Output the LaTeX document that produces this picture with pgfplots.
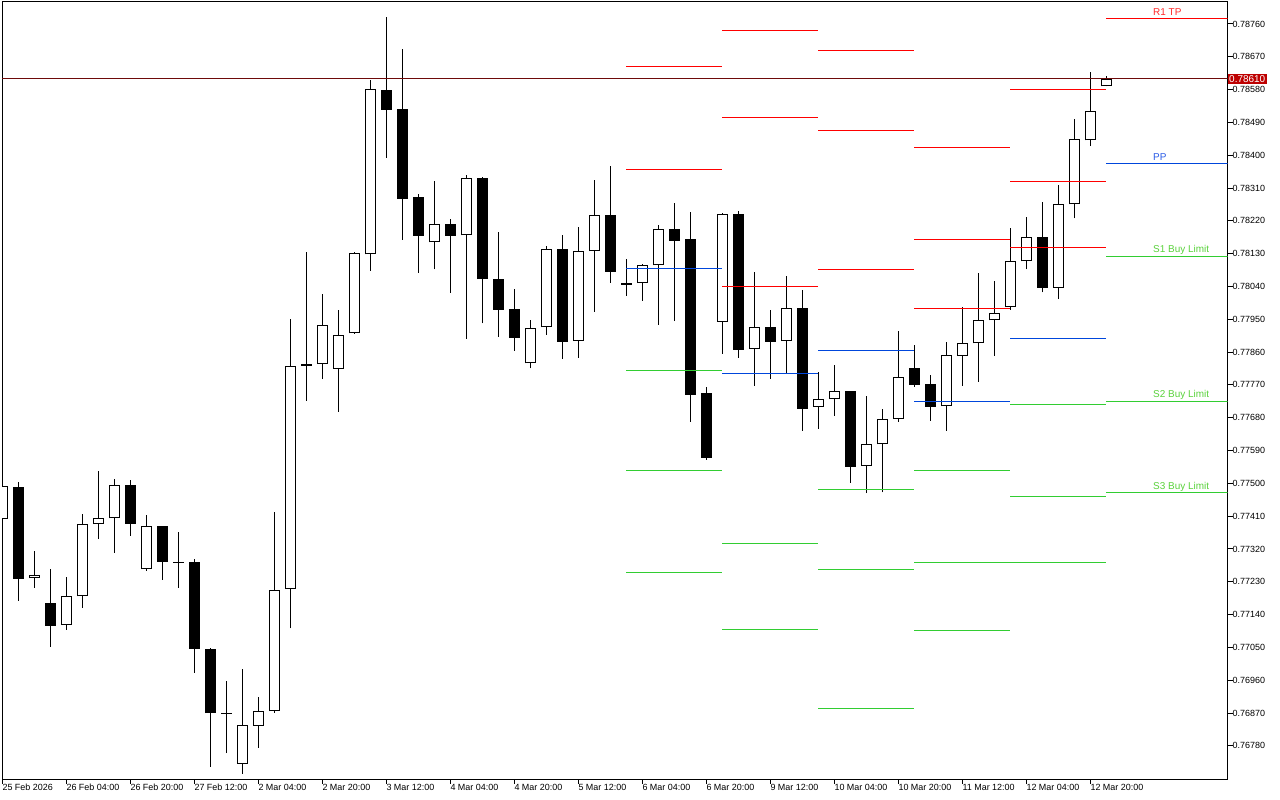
\documentclass[border=0pt]{standalone}
\usepackage{fontspec}
\setmainfont{Liberation Sans}
\usepackage{pgfplots}
\usepackage{pgfplotstable}
\pgfplotsset{compat=1.18}
\definecolor{pivred}{RGB}{255,0,0}
\definecolor{pivblue}{RGB}{0,70,220}
\definecolor{pivgreen}{RGB}{50,205,50}
\definecolor{curred}{RGB}{190,0,0}
\definecolor{curline}{RGB}{110,10,10}
\definecolor{txtred}{RGB}{255,40,40}
\definecolor{txtblue}{RGB}{40,90,230}
\definecolor{txtgreen}{RGB}{90,210,60}
\newcommand\seg[4]{\addplot[#4, line width=1bp, forget plot] coordinates {(#1,#3) (#2,#3)};}
\pgfplotstableread{
i O H L C
0 0.77401 0.77501 0.77394 0.77492
1 0.77490 0.77504 0.77178 0.77238
2 0.77240 0.77314 0.77214 0.77248
3 0.77172 0.77265 0.77052 0.77110
4 0.77111 0.77243 0.77099 0.77191
5 0.77190 0.77416 0.77159 0.77388
6 0.77388 0.77534 0.77347 0.77404
7 0.77404 0.77512 0.77310 0.77495
8 0.77495 0.77509 0.77356 0.77389
9 0.77264 0.77413 0.77260 0.77382
10 0.77383 0.77383 0.77235 0.77285
11 0.77285 0.77367 0.77214 0.77282
12 0.77284 0.77293 0.76981 0.77046
13 0.77045 0.77049 0.76722 0.76870
14 0.76871 0.76957 0.76760 0.76868
15 0.76731 0.76991 0.76703 0.76836
16 0.76835 0.76913 0.76775 0.76876
17 0.76875 0.77421 0.76871 0.77207
18 0.77210 0.77950 0.77102 0.77823
19 0.77822 0.78135 0.77726 0.77827
20 0.77827 0.78018 0.77786 0.77934
21 0.77814 0.77976 0.77696 0.77907
22 0.77911 0.78135 0.77910 0.78133
23 0.78128 0.78606 0.78083 0.78581
24 0.78578 0.78779 0.78393 0.78525
25 0.78527 0.78691 0.78168 0.78281
26 0.78285 0.78293 0.78078 0.78179
27 0.78161 0.78329 0.78087 0.78211
28 0.78211 0.78225 0.78023 0.78179
29 0.78180 0.78346 0.77897 0.78337
30 0.78337 0.78340 0.77939 0.78060
31 0.78060 0.78189 0.77902 0.77976
32 0.77977 0.78032 0.77864 0.77900
33 0.77829 0.77947 0.77815 0.77925
34 0.77928 0.78150 0.77908 0.78142
35 0.78142 0.78180 0.77842 0.77889
36 0.77890 0.78202 0.77845 0.78137
37 0.78137 0.78331 0.77971 0.78235
38 0.78235 0.78371 0.78050 0.78081
39 0.78050 0.78115 0.78015 0.78045
40 0.78049 0.78101 0.78001 0.78098
41 0.78098 0.78209 0.77935 0.78197
42 0.78197 0.78269 0.77945 0.78166
43 0.78169 0.78244 0.77669 0.77743
44 0.77747 0.77764 0.77565 0.77570
45 0.77943 0.78242 0.77856 0.78238
46 0.78238 0.78247 0.77845 0.77867
47 0.77868 0.78080 0.77768 0.77928
48 0.77928 0.77976 0.77787 0.77889
49 0.77890 0.78069 0.77804 0.77980
50 0.77980 0.78030 0.77644 0.77705
51 0.77709 0.77805 0.77650 0.77731
52 0.77731 0.77824 0.77686 0.77753
53 0.77753 0.77753 0.77502 0.77546
54 0.77547 0.77740 0.77473 0.77607
55 0.77607 0.77703 0.77475 0.77676
56 0.77676 0.77918 0.77669 0.77791
57 0.77816 0.77880 0.77765 0.77771
58 0.77772 0.77797 0.77672 0.77710
59 0.77711 0.77888 0.77644 0.77851
60 0.77849 0.77984 0.77768 0.77884
61 0.77884 0.78077 0.77779 0.77947
62 0.77947 0.78055 0.77850 0.77966
63 0.77983 0.78200 0.77976 0.78109
64 0.78109 0.78231 0.78087 0.78175
65 0.78175 0.78271 0.78024 0.78037
66 0.78037 0.78318 0.78005 0.78265
67 0.78265 0.78499 0.78227 0.78444
68 0.78441 0.78628 0.78425 0.78521
69 0.78589 0.78617 0.78589 0.78610
}\candles
\begin{document}
\begin{tikzpicture}
\begin{axis}[
  at={(2bp,21bp)}, anchor=south west,
  scale only axis, width=1225.5bp, height=777bp,
  xmin=-0.02, xmax=76.575, ymin=0.76689, ymax=0.788203,
  axis line style={line width=1bp, black},
  xtick pos=left, ytick pos=right, yticklabel pos=right,
  tick align=outside, major tick length=5bp,
  tick style={black, line width=1bp},
  xtick={0,4,...,68},
  xticklabels={25 Feb 2026, 26 Feb 04:00, 26 Feb 20:00, 27 Feb 12:00, 2 Mar 04:00, 2 Mar 20:00, 3 Mar 12:00, 4 Mar 04:00, 4 Mar 20:00, 5 Mar 12:00, 6 Mar 04:00, 6 Mar 20:00, 9 Mar 12:00, 10 Mar 04:00, 10 Mar 20:00, 11 Mar 12:00, 12 Mar 04:00, 12 Mar 20:00},
  ytick={0.7678,0.7687,0.7696,0.7705,0.7714,0.7723,0.7732,0.7741,0.7750,0.7759,0.7768,0.7777,0.7786,0.7795,0.7804,0.7813,0.7822,0.7831,0.7840,0.7849,0.7858,0.7867,0.7876},
  scaled y ticks=false,
  /pgf/number format/assume math mode=true,
  yticklabel style={/pgf/number format/fixed, /pgf/number format/fixed zerofill, /pgf/number format/precision=5, anchor=west, inner sep=0pt, font=\fontsize{9}{10}\selectfont},
  xticklabel style={anchor=north west, inner sep=0pt, font=\fontsize{9}{10}\selectfont},
  extra y ticks={0.7861},
  extra y tick style={major tick length=0pt, yticklabel style={fill=curred, text=white, inner xsep=1.5bp, inner ysep=1.5bp, font=\fontsize{10}{11}\selectfont}},
]
% wicks
\addplot[draw=none, mark=none, forget plot, error bars/.cd, y dir=plus, y explicit, error mark=none, error bar style={draw=black, line width=1bp, line cap=butt}]
  table[x=i, y=L, y error expr=\thisrow{H}-\thisrow{L}] {\candles};
% bullish bodies: outline
\addplot[draw=none, mark=none, forget plot, error bars/.cd, y dir=plus, y explicit, error mark=none, error bar style={draw=black, line width=10.5bp, line cap=butt}]
  table[x=i, y=O, y error expr={max(\thisrow{C}-\thisrow{O},0)}] {\candles};
% bullish bodies: white fill
\addplot[draw=none, mark=none, forget plot, error bars/.cd, y dir=plus, y explicit, error mark=none, error bar style={draw=white, line width=8.5bp, line cap=butt}]
  table[x=i, y expr=\thisrow{O}+0.0000274, y error expr={max(\thisrow{C}-\thisrow{O}-0.0000549,0)}] {\candles};
% bearish bodies
\addplot[draw=none, mark=none, forget plot, error bars/.cd, y dir=plus, y explicit, error mark=none, error bar style={draw=black, line width=10.5bp, line cap=butt}]
  table[x=i, y=C, y error expr={max(\thisrow{O}-\thisrow{C},0)}] {\candles};
% current price line
\addplot[curline, line width=1bp, forget plot] coordinates {(-1,0.7861) (80,0.7861)};
% daily pivot segments
\seg{39}{45}{0.78644}{pivred}
\seg{39}{45}{0.78361}{pivred}
\seg{39}{45}{0.78090}{pivblue}
\seg{39}{45}{0.77810}{pivgreen}
\seg{39}{45}{0.77536}{pivgreen}
\seg{39}{45}{0.77256}{pivgreen}
\seg{45}{51}{0.78743}{pivred}
\seg{45}{51}{0.78504}{pivred}
\seg{45}{51}{0.78039}{pivred}
\seg{45}{51}{0.77802}{pivblue}
\seg{45}{51}{0.77336}{pivgreen}
\seg{45}{51}{0.77100}{pivgreen}
\seg{51}{57}{0.78688}{pivred}
\seg{51}{57}{0.78468}{pivred}
\seg{51}{57}{0.78087}{pivred}
\seg{51}{57}{0.77865}{pivblue}
\seg{51}{57}{0.77484}{pivgreen}
\seg{51}{57}{0.77265}{pivgreen}
\seg{51}{57}{0.76883}{pivgreen}
\seg{57}{63}{0.78422}{pivred}
\seg{57}{63}{0.78169}{pivred}
\seg{57}{63}{0.77980}{pivred}
\seg{57}{63}{0.77725}{pivblue}
\seg{57}{63}{0.77536}{pivgreen}
\seg{57}{63}{0.77284}{pivgreen}
\seg{57}{63}{0.77095}{pivgreen}
\seg{63}{69}{0.78581}{pivred}
\seg{63}{69}{0.78329}{pivred}
\seg{63}{69}{0.78147}{pivred}
\seg{63}{69}{0.77896}{pivblue}
\seg{63}{69}{0.77716}{pivgreen}
\seg{63}{69}{0.77465}{pivgreen}
\seg{63}{69}{0.77284}{pivgreen}
\seg{69}{77}{0.78774}{pivred}
\seg{69}{77}{0.78377}{pivblue}
\seg{69}{77}{0.78123}{pivgreen}
\seg{69}{77}{0.77725}{pivgreen}
\seg{69}{77}{0.77474}{pivgreen}
% labels
\node[anchor=base west, inner sep=0pt, text=txtred, font=\fontsize{10}{11}\selectfont, yshift=3.5bp] at (axis cs:71.92,0.78774) {R1 TP};
\node[anchor=base west, inner sep=0pt, text=txtblue, font=\fontsize{10}{11}\selectfont, yshift=3.5bp] at (axis cs:71.92,0.78377) {PP};
\node[anchor=base west, inner sep=0pt, text=txtgreen, font=\fontsize{10}{11}\selectfont, yshift=3.5bp] at (axis cs:71.92,0.78123) {S1 Buy Limit};
\node[anchor=base west, inner sep=0pt, text=txtgreen, font=\fontsize{10}{11}\selectfont, yshift=3.5bp] at (axis cs:71.92,0.77725) {S2 Buy Limit};
\node[anchor=base west, inner sep=0pt, text=txtgreen, font=\fontsize{10}{11}\selectfont, yshift=3.5bp] at (axis cs:71.92,0.77474) {S3 Buy Limit};
\end{axis}
\pgfresetboundingbox
\path[use as bounding box] (0,0) rectangle (1280bp,800bp);
\end{tikzpicture}
\end{document}
